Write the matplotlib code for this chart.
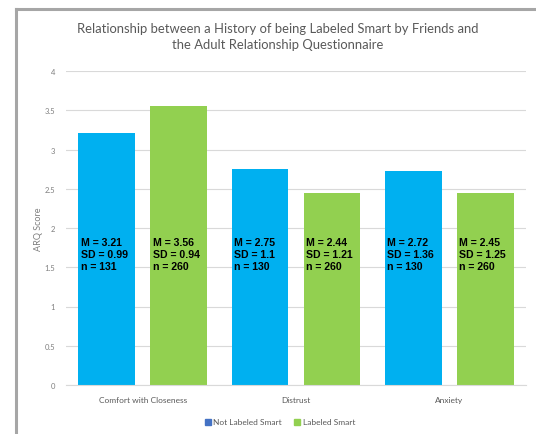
import numpy as np
import matplotlib.pyplot as plt
from matplotlib.lines import Line2D
from matplotlib.patches import Patch

categories = ["Comfort with Closeness", "Distrust", "Anxiety"]
series_names = ["Not Labeled Smart", "Labeled Smart"]
not_smart_m = [3.21, 2.75, 2.72]
not_smart_sd = ["0.99", "1.1", "1.36"]
not_smart_n = [131, 130, 130]
smart_m = [3.56, 2.44, 2.45]
smart_sd = ["0.94", "1.21", "1.25"]
smart_n = [260, 260, 260]
y_ticks = [0, 0.5, 1, 1.5, 2, 2.5, 3, 3.5, 4]

blue = "#00B0F0"
green = "#92D050"
legend_blue = "#4472C4"
title_font = "Lato"

W, H = 536, 435
fig = plt.figure(figsize=(W / 100, H / 100), dpi=100)

# axes placed in pixel coords: x 66..526, y 72..386
ax = fig.add_axes([66 / W, 1 - 386 / H, 460 / W, (386 - 72) / H])

x = np.arange(len(categories))
width = 0.37
off = 0.235
ax.bar(x - off, not_smart_m, width, color=blue, zorder=2)
ax.bar(x + off, smart_m, width, color=green, zorder=2)

for i in range(len(categories)):
    txt = f"M = {not_smart_m[i]:.2f}\nSD = {not_smart_sd[i]}\nn = {not_smart_n[i]}"
    ax.text(x[i] - off - width / 2 + 0.015, 1.67, txt, ha="left", va="center",
            fontsize=7.6, fontweight="bold", family="Liberation Sans",
            linespacing=1.2, zorder=3)
    txt = f"M = {smart_m[i]:.2f}\nSD = {smart_sd[i]}\nn = {smart_n[i]}"
    ax.text(x[i] + off - width / 2 + 0.015, 1.67, txt, ha="left", va="center",
            fontsize=7.6, fontweight="bold", family="Liberation Sans",
            linespacing=1.2, zorder=3)

ax.set_xlim(-0.5, 2.5)
ax.set_ylim(0, 4)
ax.set_yticks(y_ticks)
ax.set_yticklabels([f"{t:g}" for t in y_ticks], fontsize=5.5, color="#7f7f7f",
                   family=title_font)
ax.set_xticks(x)
ax.set_xticklabels(categories, fontsize=6, color="#595959", family=title_font)
ax.tick_params(axis="y", length=0, pad=8)
ax.tick_params(axis="x", length=0, pad=8)
ax.grid(axis="y", color="#d9d9d9", linewidth=0.8, zorder=0)
for s in ["top", "right", "left"]:
    ax.spines[s].set_visible(False)
ax.spines["bottom"].set_color("#d9d9d9")
ax.set_ylabel("ARQ Score", fontsize=6.5, color="#7f7f7f", family=title_font,
              labelpad=1)

fig.text(278 / W, 1 - 37 / H,
         "Relationship between a History of being Labeled Smart by Friends and\nthe Adult Relationship Questionnaire",
         ha="center", va="center", fontsize=9.4, color="#595959", family=title_font,
         linespacing=1.45)

handles = [Patch(color=legend_blue), Patch(color=green)]
fig.legend(handles, series_names, loc="center", bbox_to_anchor=(280 / W, 1 - 423 / H),
           ncol=2, frameon=False, handlelength=0.7, handleheight=0.7,
           handletextpad=0.3, columnspacing=1.5,
           prop={"family": title_font, "size": 6}, labelcolor="#595959")

# frame lines around the chart
fig.add_artist(Line2D([15.5 / W, 15.5 / W], [0, 1 - 9.5 / H], color="#a6a6a6",
                      linewidth=2.2, transform=fig.transFigure))
fig.add_artist(Line2D([15.5 / W, 1], [1 - 9.5 / H, 1 - 9.5 / H], color="#a6a6a6",
                      linewidth=2.2, transform=fig.transFigure))

fig.savefig("out.png", dpi=100)
